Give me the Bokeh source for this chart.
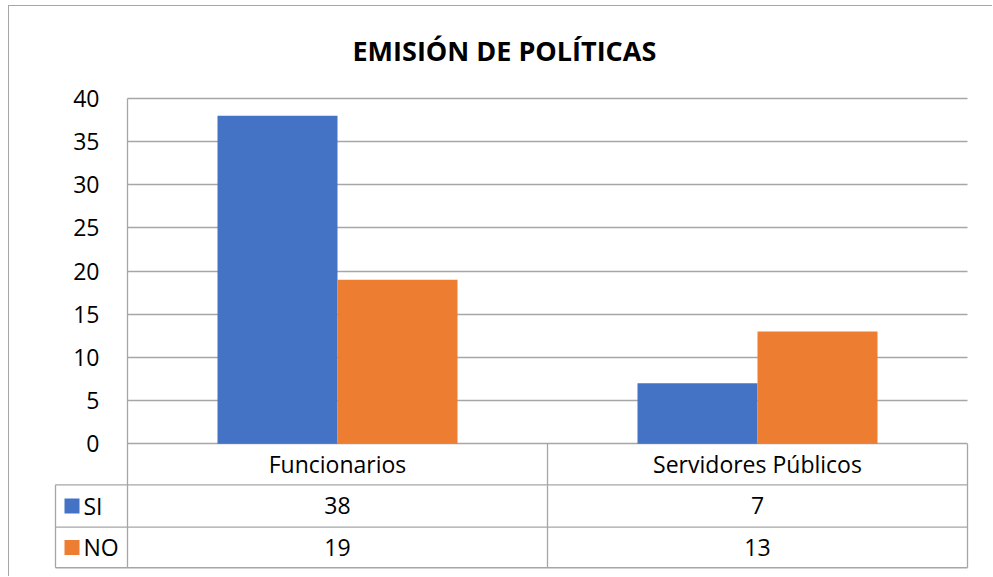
from bokeh.plotting import figure
from bokeh.models import Range1d, FixedTicker
from bokeh.core.properties import value
from bokeh.embed import file_html
from bokeh.resources import INLINE

# ---- data ----
categories = ["Funcionarios", "Servidores Públicos"]
series_names = ["SI", "NO"]
si_values = [38, 7]
no_values = [19, 13]
y_ticks = [0, 5, 10, 15, 20, 25, 30, 35, 40]
series_colors = ["#4472C4", "#ED7D31"]

# ---- style / layout constants ----
FONT = "Open Sans"
GRID = "#a6a6a6"
TXT = "#000000"
OX, OY = 9, 6                     # canvas origin on page (margin + border)
W, H = 993 - OX, 577 - OY
BL, BR, BT, BB = 51 - OX, 23, 84 - OY, 8
PX_X = 420.0                      # px per category unit
PX_Y = 345.3 / 40                 # px per value unit
FRAME_W = W - BL - BR
FRAME_H = H - BT - BB
X0 = -(127 - 51) / PX_X           # frame left
Y1 = 40 + (98 - 84) / PX_Y        # frame top
LEG_X = -72 / PX_X                # left edge of legend column
ROW_EDGES = [0, -4.75, -9.66, -14.36]

p = figure(width=W, height=H, output_backend="svg", toolbar_location=None,
           x_range=Range1d(X0, X0 + FRAME_W / PX_X),
           y_range=Range1d(Y1 - FRAME_H / PX_Y, Y1),
           x_axis_location=None,
           min_border_left=BL, min_border_right=BR, min_border_top=BT, min_border_bottom=BB)
p.outline_line_color = None
p.background_fill_color = "white"
p.border_fill_color = "white"
p.styles = {"margin-left": "8px", "margin-top": "5px",
            "border-left": "1px solid #a6a6a6", "border-top": "1px solid #a6a6a6"}

# title
p.title.text = "EMISIÓN DE POLÍTICAS"
p.title.align = "left"
p.title.offset = 352 - 51
p.title.text_font = FONT
p.title.text_font_size = "27px"
p.title.text_font_style = "bold"
p.title.text_color = TXT
p.title.standoff = 31

# y axis drawn at a fixed location inside the frame
yaxis = p.yaxis[0]
yaxis.ticker = FixedTicker(ticks=y_ticks)
yaxis.fixed_location = -19 / PX_X
yaxis.axis_line_color = None
yaxis.major_tick_line_color = None
yaxis.minor_tick_line_color = None
yaxis.major_label_standoff = 3
yaxis.major_label_text_font = FONT
yaxis.major_label_text_font_size = "23px"
yaxis.major_label_text_color = TXT

p.xgrid.grid_line_color = None
p.ygrid.ticker = FixedTicker(ticks=y_ticks)
p.ygrid.cross_bounds = (0, len(categories))
p.ygrid.grid_line_color = GRID
p.ygrid.grid_line_width = 1.3

# bars
bar_w = 120 / PX_X
centers = [i + 0.5 for i in range(len(categories))]
for k, vals in enumerate([si_values, no_values]):
    off = (k - 0.5) * bar_w
    p.vbar(x=[c + off for c in centers], top=vals, bottom=0, width=bar_w,
           fill_color=series_colors[k], line_color=None)

# data table lines
n = len(categories)
for y in ROW_EDGES[1:]:
    p.segment(x0=[LEG_X], y0=[y], x1=[n], y1=[y], line_color=GRID, line_width=1.3)
p.segment(x0=[LEG_X], y0=[ROW_EDGES[1]], x1=[LEG_X], y1=[ROW_EDGES[-1]], line_color=GRID, line_width=1.3)
p.segment(x0=[0], y0=[40], x1=[0], y1=[ROW_EDGES[-1]], line_color=GRID, line_width=1.3)
for i in range(1, n + 1):
    p.segment(x0=[i], y0=[0], x1=[i], y1=[ROW_EDGES[-1]], line_color=GRID, line_width=1.3)

row_mid = [(ROW_EDGES[j] + ROW_EDGES[j + 1]) / 2 for j in range(3)]
p.text(x=centers, y=[row_mid[0]] * n, text=categories, text_align="center",
       text_baseline="middle", text_font=value(FONT), text_font_size="23px", text_color=TXT)
for k, vals in enumerate([si_values, no_values]):
    p.text(x=centers, y=[row_mid[k + 1]] * n, text=[str(v) for v in vals], text_align="center",
           text_baseline="middle", text_font=value(FONT), text_font_size="23px", text_color=TXT)
    p.rect(x=[(71.5 - 127) / PX_X], y=[row_mid[k + 1]], width=15, height=15,
           width_units="screen", height_units="screen", fill_color=series_colors[k], line_color=None)
    p.text(x=[(83 - 127) / PX_X], y=[row_mid[k + 1]], text=[series_names[k]], text_align="left",
           text_baseline="middle", text_font=value(FONT), text_font_size="23px", text_color=TXT)

open("out.html", "w").write(file_html(p, INLINE))
